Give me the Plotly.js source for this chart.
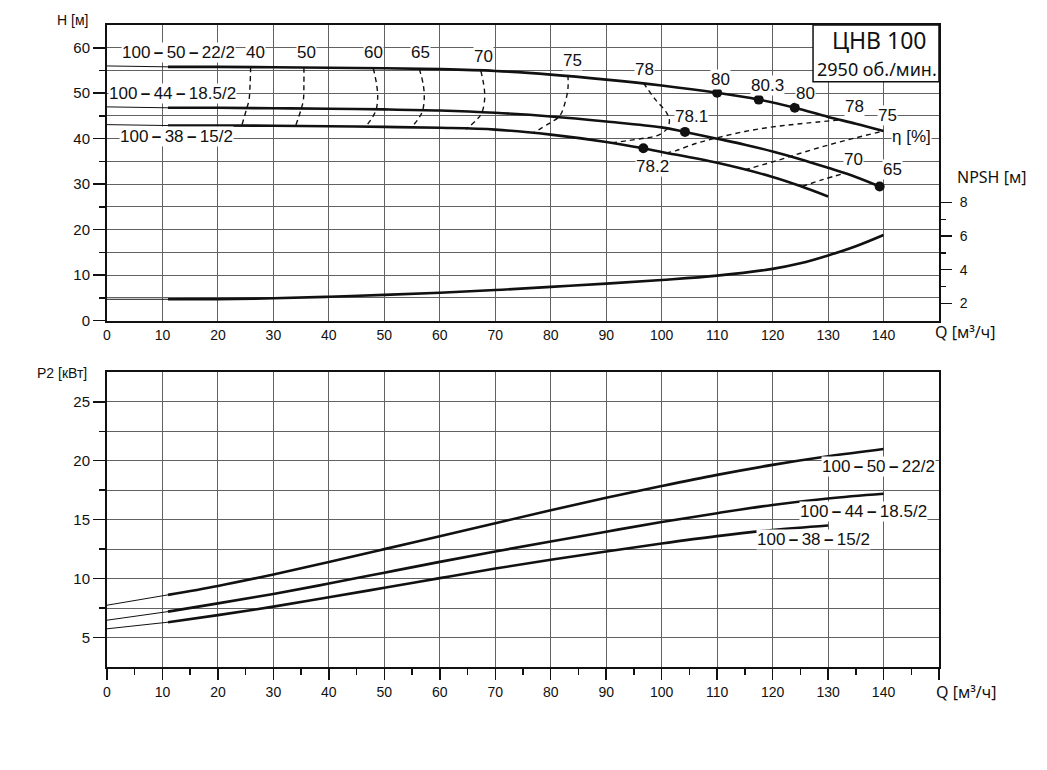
<!DOCTYPE html>
<html>
<head>
<meta charset="utf-8">
<script src="https://cdn.plot.ly/plotly-3.0.1.min.js"></script>
<style>
  body { margin: 0; background: #fff; }
  #chart { width: 1047px; height: 770px; }
</style>
</head>
<body>
<div id="chart"></div>
<script>
// ---- data ----
// H-Q curves (thick part) and their thin start from Q = 0
const extQ = [0, 11];
const hq1Q = [11, 20, 30, 40, 50, 60, 70, 80, 90, 100, 110, 117.5, 124, 130, 135, 140];
const hq1H = [55.8, 55.8, 55.7, 55.6, 55.5, 55.3, 54.9, 54.1, 53.0, 51.7, 50.1, 48.6, 46.8, 44.8, 43.3, 41.7];
const hq1Ext = [56.0, 55.8];
const hq2Q = [11, 20, 30, 40, 50, 60, 70, 80, 90, 100, 104.2, 110, 115, 120, 125, 130, 135, 139.3];
const hq2H = [46.8, 46.8, 46.7, 46.6, 46.45, 46.2, 45.7, 44.9, 43.8, 42.5, 41.5, 40.0, 38.7, 37.2, 35.5, 33.6, 31.6, 29.5];
const hq2Ext = [47.0, 46.8];
const hq3Q = [11, 20, 30, 40, 50, 60, 70, 80, 90, 96.7, 100, 110, 120, 125, 130];
const hq3H = [42.9, 42.9, 42.85, 42.75, 42.6, 42.4, 42.0, 40.9, 39.3, 37.9, 37.1, 34.7, 31.6, 29.6, 27.3];
const hq3Ext = [43.1, 42.9];

// efficiency points on the curves
const dotQ = [110, 117.5, 124, 104.2, 96.7, 139.3];
const dotH = [50.1, 48.6, 46.8, 41.5, 37.9, 29.5];

// iso-efficiency lines, η [%]
const eta40Q = [25.9, 25.8, 25.6, 25.2, 24.3];
const eta40H = [55.8, 52.0, 48.5, 46.7, 42.9];
const eta50Q = [35.5, 35.5, 35.4, 35.0, 34.0];
const eta50H = [55.7, 52.0, 48.5, 46.5, 42.8];
const eta60Q = [48.0, 48.6, 48.8, 48.5, 47.8, 46.6];
const eta60H = [55.5, 52.0, 49.0, 46.3, 44.6, 42.6];
const eta65Q = [56.3, 57.0, 57.2, 56.9, 56.2, 54.9];
const eta65H = [55.4, 52.0, 49.0, 46.2, 44.5, 42.5];
const eta70Q = [67.4, 67.9, 68.1, 67.6, 66.6, 64.7];
const eta70H = [54.9, 52.0, 49.0, 45.8, 44.1, 42.1];
const eta75Q = [83.1, 83.1, 82.6, 81.6, 79.5, 77.0];
const eta75H = [54.0, 51.0, 48.0, 45.0, 43.2, 41.4];
const eta78Q = [96.7, 98.8, 100.9, 101.4, 100.9, 99.2, 96.2, 91.0];
const eta78H = [52.3, 48.7, 45.7, 43.9, 42.1, 40.7, 40.0, 39.1];
const eta78bQ = [100.8, 102.6, 106, 110, 115, 120, 125, 131.8];
const eta78bH = [36.9, 37.4, 38.9, 40.2, 41.6, 42.6, 43.3, 44.1];
const eta75bQ = [115, 120, 125, 130, 135, 140];
const eta75bH = [33.2, 34.9, 36.8, 38.6, 40.2, 41.7];
const eta70bQ = [125.3, 129, 133];
const eta70bH = [29.5, 31.0, 32.4];

// NPSH
const npshQ = [11, 20, 30, 40, 50, 60, 70, 80, 90, 100, 110, 120, 125, 130, 135, 140];
const npsh = [2.24, 2.25, 2.3, 2.39, 2.5, 2.63, 2.79, 2.98, 3.17, 3.39, 3.65, 4.05, 4.38, 4.85, 5.4, 6.07];
const npshExt = [2.24, 2.24];

// P2 power curves
const p1Q = [11, 20, 30, 40, 50, 60, 70, 80, 90, 100, 110, 120, 130, 140];
const p1 = [8.62, 9.38, 10.35, 11.4, 12.5, 13.6, 14.7, 15.8, 16.85, 17.85, 18.8, 19.65, 20.38, 21.0];
const p1Ext = [7.74, 8.62];
const p2Q = [11, 20, 30, 40, 50, 60, 70, 80, 90, 100, 110, 120, 130, 140];
const p2 = [7.2, 7.9, 8.7, 9.58, 10.5, 11.42, 12.3, 13.15, 13.98, 14.8, 15.55, 16.25, 16.8, 17.2];
const p2Ext = [6.47, 7.2];
const p3Q = [11, 20, 30, 40, 50, 60, 70, 80, 90, 100, 110, 120, 130];
const p3 = [6.3, 6.9, 7.62, 8.42, 9.22, 10.04, 10.85, 11.6, 12.3, 12.98, 13.6, 14.12, 14.5];
const p3Ext = [5.74, 6.3];

// ticks
const qTicks = [0, 10, 20, 30, 40, 50, 60, 70, 80, 90, 100, 110, 120, 130, 140];
const hTicks = [0, 10, 20, 30, 40, 50, 60];
const hMinor = [5, 15, 25, 35, 45, 55];
const npshTicks = [2, 4, 6, 8];
const npshMinor = [3, 5, 7];
const pTicks = [5, 10, 15, 20, 25];
const pMinor = [7.5, 12.5, 17.5, 22.5];

// pump names, drawn with short bold dashes as in the catalogue sheet
const D = '\u2009<b>–</b>\u2009';
const pumpNames = ['100' + D + '50' + D + '22/2', '100' + D + '44' + D + '18.5/2', '100' + D + '38' + D + '15/2'];

// ---- styles ----
const FONT = 'Liberation Sans, Arial, sans-serif';
const HUMAN = 'Noto Sans, Open Sans, sans-serif';
const INK = '#111';
const GRID = '#626262';

function line(x, y, width, axes, dash) {
  return {
    x: x, y: y, mode: 'lines', xaxis: axes[0], yaxis: axes[1],
    line: { color: INK, width: width, shape: 'spline', smoothing: 1, dash: dash || 'solid' },
    hoverinfo: 'skip', showlegend: false,
  };
}

const axTop = ['x', 'y'];
const axBottom = ['x2', 'y3'];
const dashed = '5px,4px';

const traces = [
  line(extQ, hq1Ext, 1, axTop), line(hq1Q, hq1H, 2.6, axTop),
  line(extQ, hq2Ext, 1, axTop), line(hq2Q, hq2H, 2.6, axTop),
  line(extQ, hq3Ext, 1, axTop), line(hq3Q, hq3H, 2.6, axTop),
  line(eta40Q, eta40H, 1.4, axTop, dashed),
  line(eta50Q, eta50H, 1.4, axTop, dashed),
  line(eta60Q, eta60H, 1.4, axTop, dashed),
  line(eta65Q, eta65H, 1.4, axTop, dashed),
  line(eta70Q, eta70H, 1.4, axTop, dashed),
  line(eta75Q, eta75H, 1.4, axTop, dashed),
  line(eta78Q, eta78H, 1.4, axTop, dashed),
  line(eta78bQ, eta78bH, 1.4, axTop, dashed),
  line(eta75bQ, eta75bH, 1.4, axTop, dashed),
  line(eta70bQ, eta70bH, 1.4, axTop, dashed),
  {
    x: dotQ, y: dotH, mode: 'markers', xaxis: 'x', yaxis: 'y',
    marker: { color: INK, size: 10 }, hoverinfo: 'skip', showlegend: false,
  },
  line(extQ, npshExt, 1, ['x', 'y2']), line(npshQ, npsh, 2.6, ['x', 'y2']),
  line(extQ, p1Ext, 1, axBottom), line(p1Q, p1, 2.6, axBottom),
  line(extQ, p2Ext, 1, axBottom), line(p2Q, p2, 2.6, axBottom),
  line(extQ, p3Ext, 1, axBottom), line(p3Q, p3, 2.6, axBottom),
];

const tickFont = { family: FONT, size: 15, color: INK };
const xTickFont = { family: FONT, size: 14, color: INK };
const frame = { showline: true, linecolor: INK, linewidth: 2, mirror: true, zeroline: false };

function label(text, x, y, xref, yref, size, family, extra) {
  return Object.assign({
    text: text, x: x, y: y, xref: xref, yref: yref, showarrow: false,
    xanchor: 'center', yanchor: 'middle',
    font: { family: family || FONT, size: size || 17, color: INK },
    bgcolor: 'white', borderpad: 0,
  }, extra || {});
}

const clear = { bgcolor: 'rgba(0,0,0,0)' };
const annotations = [
  label(pumpNames[0], 12.8, 59.0, 'x', 'y'),
  label(pumpNames[1], 11.8, 50.0, 'x', 'y'),
  label(pumpNames[2], 12.6, 40.4, 'x', 'y'),
  label('40', 26.8, 59.0, 'x', 'y'),
  label('50', 36.0, 59.0, 'x', 'y'),
  label('60', 48.1, 59.0, 'x', 'y'),
  label('65', 56.6, 59.0, 'x', 'y'),
  label('70', 67.9, 58.0, 'x', 'y'),
  label('75', 83.9, 57.3, 'x', 'y'),
  label('78', 96.9, 55.3, 'x', 'y'),
  label('80', 110.6, 53.1, 'x', 'y'),
  label('80.3', 119.1, 51.6, 'x', 'y'),
  label('80', 125.9, 50.05, 'x', 'y'),
  label('78', 134.7, 47.0, 'x', 'y'),
  label('75', 140.7, 45.0, 'x', 'y'),
  label('η [%]', 145.0, 40.4, 'x', 'y'),
  label('78.1', 105.4, 44.8, 'x', 'y'),
  label('78.2', 98.3, 34.0, 'x', 'y'),
  label('70', 134.5, 35.5, 'x', 'y'),
  label('65', 141.6, 33.3, 'x', 'y'),
  label(pumpNames[0], 139.1, 19.5, 'x2', 'y3'),
  label(pumpNames[1], 136.3, 15.7, 'x2', 'y3'),
  label(pumpNames[2], 127.3, 13.3, 'x2', 'y3'),
  label('H [м]', -0.041, 1.008, 'paper', 'paper', 14, FONT, clear),
  label('P2 [кВт]', -0.054, 0.458, 'paper', 'paper', 14, FONT, clear),
  label('NPSH [м]', 1.0625, 0.763, 'paper', 'paper', 16, HUMAN, clear),
  label('Q [м³/ч]', 1.031, 0.522, 'paper', 'paper', 16, HUMAN, clear),
  label('Q [м³/ч]', 1.0325, -0.039, 'paper', 'paper', 16, HUMAN, clear),
  label('ЦНВ 100', 0.929, 0.9766, 'paper', 'paper', 23, HUMAN, clear),
  label('2950 об./мин.', 0.9255, 0.9307, 'paper', 'paper', 18, HUMAN, clear),
];

const layout = {
  width: 1047, height: 770,
  margin: { l: 107, r: 108, t: 25, b: 103 },
  paper_bgcolor: 'white', plot_bgcolor: 'white',
  showlegend: false,
  xaxis: Object.assign({
    domain: [0, 1], anchor: 'y', range: [0, 150],
    tickmode: 'array', tickvals: qTicks, ticks: '',
    showgrid: true, gridcolor: GRID, gridwidth: 1, tickfont: xTickFont,
  }, frame),
  yaxis: Object.assign({
    domain: [0.5394, 1], anchor: 'x', range: [0, 65],
    tickmode: 'array', tickvals: hTicks, ticks: 'outside', ticklen: 12, tickwidth: 1.5, tickcolor: INK,
    minor: { tickmode: 'array', tickvals: hMinor, ticks: 'outside', ticklen: 6, tickwidth: 1.5, tickcolor: INK, showgrid: true, gridcolor: GRID },
    showgrid: true, gridcolor: GRID, gridwidth: 1, tickfont: tickFont,
  }, frame),
  yaxis2: {
    overlaying: 'y', side: 'right', anchor: 'x', range: [0.964, 18.57],
    tickmode: 'array', tickvals: npshTicks, ticks: 'outside', ticklen: 12, tickwidth: 1.5, tickcolor: INK,
    minor: { tickmode: 'array', tickvals: npshMinor, ticks: 'outside', ticklen: 6, tickwidth: 1.5, tickcolor: INK },
    ticklabelstandoff: 5,
    showgrid: false, showline: false, zeroline: false, tickfont: xTickFont,
  },
  xaxis2: Object.assign({
    domain: [0, 1], anchor: 'y3', range: [0, 150],
    tickmode: 'array', tickvals: qTicks.concat([150]), ticktext: qTicks.map(String).concat(['']),
    ticks: 'outside', ticklen: 11, tickwidth: 1.5, tickcolor: INK,
    minor: { tickmode: 'array', tickvals: qTicks.map(v => v + 5), ticks: 'outside', ticklen: 6, tickwidth: 1.5, tickcolor: INK },
    showgrid: true, gridcolor: GRID, gridwidth: 1, tickfont: xTickFont,
  }, frame),
  yaxis3: Object.assign({
    domain: [0, 0.459], anchor: 'x2', range: [2.5, 27.5],
    tickmode: 'array', tickvals: pTicks, ticks: 'outside', ticklen: 12, tickwidth: 1.5, tickcolor: INK,
    minor: { tickmode: 'array', tickvals: pMinor, ticks: 'outside', ticklen: 6, tickwidth: 1.5, tickcolor: INK, showgrid: true, gridcolor: GRID },
    showgrid: true, gridcolor: GRID, gridwidth: 1, tickfont: tickFont,
  }, frame),
  shapes: [{
    type: 'rect', xref: 'paper', yref: 'paper', x0: 0.8486, x1: 1.0, y0: 0.9117, y1: 1.0,
    fillcolor: 'white', line: { color: INK, width: 1.5 }, layer: 'above',
  }],
  annotations: annotations,
};

Plotly.newPlot('chart', traces, layout, { staticPlot: true, displayModeBar: false });
</script>
</body>
</html>
